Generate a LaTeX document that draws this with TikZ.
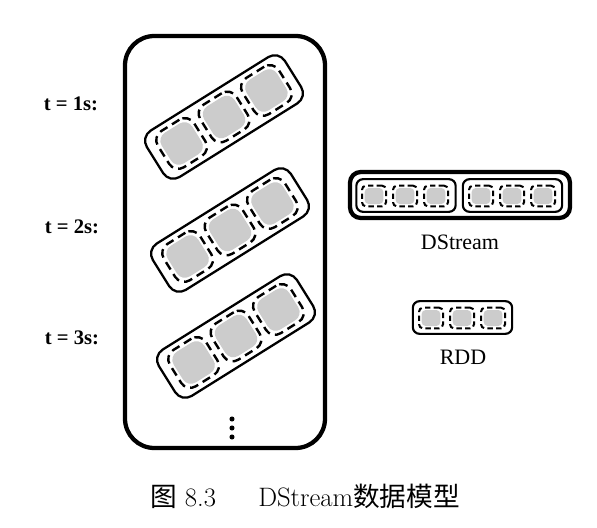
\documentclass[tikz,border=0pt]{standalone}
\usepackage{fontspec}
\newfontfamily\tms{Liberation Serif}
\newfontfamily\cjk{Noto Sans CJK SC}
\usetikzlibrary{calc}
\tikzset{
  bigbox/.style={draw, line width=3.2pt, rounded corners=22pt, minimum width=150pt, minimum height=309pt, inner sep=0pt},
  grp/.style={draw, line width=1.7pt, rounded corners=9pt, minimum width=122pt, minimum height=41pt, inner sep=0pt, rotate=32},
  cell/.style={draw, line width=1.8pt, dash pattern=on 6.5pt off 4pt, rounded corners=8pt, minimum size=32pt, inner sep=0pt, rotate=32},
  blob/.style={fill=black!20, rounded corners=7pt, minimum size=27pt, inner sep=0pt, rotate=32},
  dsbox/.style={draw, line width=3.2pt, rounded corners=8pt, minimum width=165pt, minimum height=34.5pt, inner sep=0pt},
  rddbox/.style={draw, line width=1.6pt, rounded corners=5pt, minimum width=74.5pt, minimum height=24.5pt, inner sep=0pt},
  scell/.style={draw, line width=1.5pt, dash pattern=on 4pt off 2.5pt, rounded corners=3pt, minimum width=18pt, minimum height=15.5pt, inner sep=0pt},
  sblob/.style={fill=black!20, rounded corners=3pt, minimum width=14pt, minimum height=12pt, inner sep=0pt},
  tlab/.style={font=\tms\bfseries\fontsize{15.5}{18}\selectfont},
  nlab/.style={font=\tms\fontsize{16.5}{20}\selectfont},
  dotn/.style={circle, fill, inner sep=0pt, minimum size=3.8pt},
  captext/.style={font=\fontsize{20}{24}\selectfont, anchor=base west, inner sep=0pt}
}
\begin{document}
\begin{tikzpicture}[x=0.75pt,y=-0.75pt]
\useasboundingbox[fill=white] (0,0) rectangle (597,528);
% big container
\node[bigbox] (big) at (225,242) {};
% time labels
\node[tlab] (t1) at (71,104) {t = 1s:};
\node[tlab] (t2) at (72,227) {t = 2s:};
\node[tlab] (t3) at (72,338) {t = 3s:};
% tilted groups
\foreach \g/\cx/\cy in {1/224/117, 2/230/230, 3/236/336} {
  \node[grp] (g\g) at (\cx,\cy) {};
  \foreach \k in {1,2,3} {
    \node[blob] (g\g b\k) at ($(g\g)+({42.4*(\k-2)},{-26.5*(\k-2)})$) {};
    \node[cell] (g\g c\k) at ($(g\g)+({42.4*(\k-2)},{-26.5*(\k-2)})$) {};
  }
}
% dots
\node[dotn] (d1) at (232,419) {};
\node[dotn] (d2) at (232,428) {};
\node[dotn] (d3) at (232,437) {};
% DStream
\node[dsbox] (ds) at (460,195) {};
\node[rddbox] (ds1) at (406,195.5) {};
\node[rddbox] (ds2) at (512.5,195.5) {};
\foreach \i/\x in {1/374, 2/405, 3/436, 4/481, 5/512, 6/543} {
  \node[sblob] (dsb\i) at (\x,196) {};
  \node[scell] (dsc\i) at (\x,196) {};
}
\node[nlab] (dslab) at (460,242) {DStream};
% RDD
\node[rddbox] (rdd) at (462.5,317.5) {};
\foreach \i/\x in {1/431, 2/462, 3/493} {
  \node[sblob] (rb\i) at (\x,318) {};
  \node[scell] (rc\i) at (\x,318) {};
}
\node[nlab] (rddlab) at (463,357) {RDD};
% caption
\node[captext] (c1) at (150,506) {{\cjk 图} 8.3};
\node[captext] (c2) at (258,506) {DStream{\cjk 数据模型}};
\end{tikzpicture}
\end{document}
